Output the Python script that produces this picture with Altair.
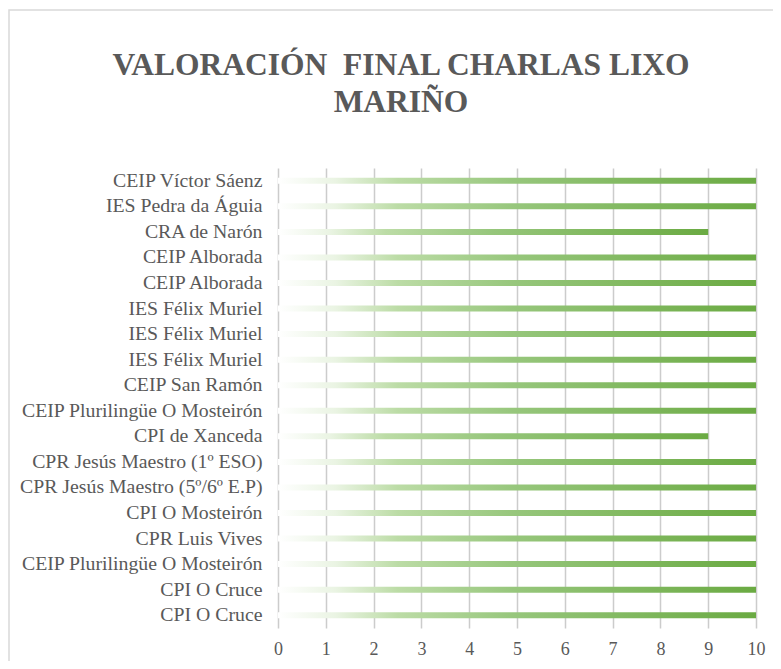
import json
import altair as alt
import pandas as pd

schools = [
    "CEIP Víctor Sáenz",
    "IES Pedra da Águia",
    "CRA de Narón",
    "CEIP Alborada",
    "CEIP Alborada",
    "IES Félix Muriel",
    "IES Félix Muriel",
    "IES Félix Muriel",
    "CEIP San Ramón",
    "CEIP Plurilingüe O Mosteirón",
    "CPI de Xanceda",
    "CPR Jesús Maestro (1º ESO)",
    "CPR Jesús Maestro (5º/6º E.P)",
    "CPI O Mosteirón",
    "CPR Luis Vives",
    "CEIP Plurilingüe O Mosteirón",
    "CPI O Cruce",
    "CPI O Cruce",
]
scores = [10, 10, 9, 10, 10, 10, 10, 10, 10, 10, 9, 10, 10, 10, 10, 10, 10, 10]
x_ticks = list(range(0, 11))
title_lines = ["VALORACIÓN\u00a0 FINAL CHARLAS LIXO", "MARIÑO"]

df = pd.DataFrame({"idx": list(range(len(schools))), "school": schools, "score": scores})

FONT = "Liberation Serif"
TITLE_FONT = "'Times New Roman', 'Liberation Serif', serif"
TXT = "#595959"

gradient = alt.Gradient(
    gradient="linear",
    x1=0, x2=1, y1=0, y2=0,
    stops=[
        alt.GradientStop(offset=0, color="#ffffff"),
        alt.GradientStop(offset=0.12, color="#eaf4e3"),
        alt.GradientStop(offset=0.25, color="#bcdca6"),
        alt.GradientStop(offset=0.5, color="#96c67b"),
        alt.GradientStop(offset=1, color="#6aaa42"),
    ],
)

label_expr = json.dumps(schools, ensure_ascii=False) + "[datum.value]"

bars = alt.Chart(df).mark_bar(size=6, color=gradient).encode(
    x=alt.X(
        "score:Q",
        scale=alt.Scale(domain=[0, 10], nice=False),
        axis=alt.Axis(
            values=x_ticks, title=None, grid=True, gridColor="#cccccc", gridWidth=1.5,
            domain=False, ticks=False, labelFont=FONT, labelFontSize=18,
            labelColor=TXT, labelPadding=12, labelFlush=False,
        ),
    ),
    y=alt.Y(
        "idx:O",
        scale=alt.Scale(paddingInner=0, paddingOuter=0),
        axis=alt.Axis(
            title=None, labelExpr=label_expr, domain=False, ticks=False, grid=False,
            labelFont=FONT, labelFontSize=19.8, labelColor=TXT, labelPadding=16,
            labelLimit=400,
        ),
    ),
)

one = pd.DataFrame({"a": [0]})

frame = alt.Chart(one).mark_rect(
    fill=None, stroke="#d9d9d9", strokeWidth=1.5
).encode(
    x=alt.value(-269), x2=alt.value(540), y=alt.value(-158), y2=alt.value(540)
)

title = alt.Chart(one).mark_text(
    text=title_lines, font=TITLE_FONT, fontSize=31.5, fontWeight="bold", color=TXT,
    align="center", baseline="alphabetic", lineHeight=37,
).encode(x=alt.value(123), y=alt.value(-93))

chart = alt.layer(frame, title, bars).properties(
    width=478,
    height=460,
    padding={"left": 270, "top": 160, "right": 17, "bottom": 33},
    autosize=alt.AutoSizeParams(type="none"),
).configure_view(stroke=None)

chart.save("out.html", embed_options={"renderer": "svg", "actions": False})
